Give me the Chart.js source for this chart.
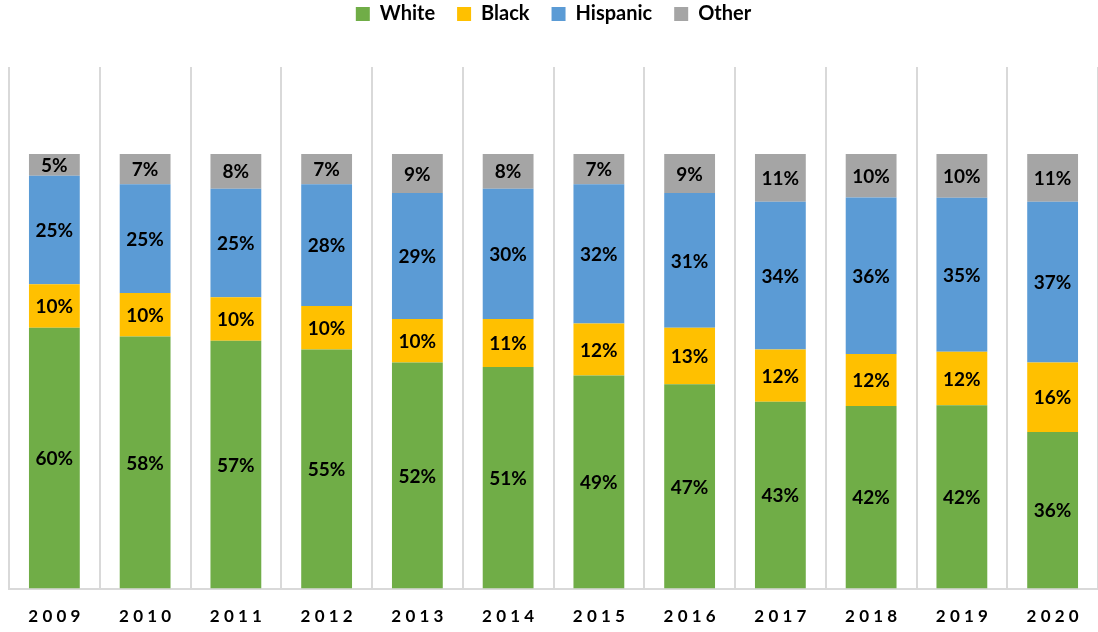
<!DOCTYPE html>
<html>
<head>
<meta charset="utf-8">
<script src="https://cdn.jsdelivr.net/npm/chart.js@4"></script>
<style>
  html, body { margin: 0; padding: 0; background: #fff; }
  #wrap { width: 1098px; height: 632px; }
</style>
</head>
<body>
<div id="wrap"><canvas id="chartRace"></canvas></div>
<script>
let years = ['2009', '2010', '2011', '2012', '2013', '2014', '2015', '2016', '2017', '2018', '2019', '2020']
let white = [60, 58, 57, 55, 52, 51, 49, 47, 43, 42, 42.2, 36]
let black = [10, 10, 10, 10, 10, 11, 12, 13, 12, 12, 12.3, 16]
let hispanic = [25, 25, 25, 28, 29, 30, 32, 31, 34, 36, 35.4, 37]
let other = [5, 7, 8, 7, 9, 8, 7, 9, 11, 10, 10.1, 11]

let fontName = 'Lato, "Liberation Sans", sans-serif'

// percent labels in the middle of each segment
let segLabels = {
    id: 'segLabels',
    afterDatasetsDraw: function (chart) {
        let ctx = chart.ctx
        ctx.save()
        ctx.font = 'bold 19px ' + fontName
        ctx.fillStyle = '#000'
        ctx.textAlign = 'center'
        ctx.textBaseline = 'middle'
        chart.data.datasets.forEach(function (ds, i) {
            chart.getDatasetMeta(i).data.forEach(function (bar, j) {
                let p = bar.getProps(['x', 'y', 'base'], true)
                ctx.fillText(Math.round(ds.data[j]) + '%', p.x, (p.y + p.base) / 2 + 1)
            })
        })
        ctx.restore()
    }
}

// extra room under the legend
let legendGap = {
    id: 'legendGap',
    beforeInit: function (chart) {
        let fit = chart.legend.fit
        chart.legend.fit = function () {
            fit.bind(chart.legend)()
            this.height += 33
        }
    }
}

function makeSet (name, values, color) {
    return {
        label: name,
        data: values,
        backgroundColor: color,
        borderWidth: 0,
        barPercentage: 0.56,
        categoryPercentage: 1
    }
}

let canvs = document.getElementById('chartRace').getContext('2d')
let chartRace = new Chart(canvs, {
    type: 'bar',
    data: {
        labels: years,
        datasets: [
            makeSet('White', white, '#70AD47'),
            makeSet('Black', black, '#FFC000'),
            makeSet('Hispanic', hispanic, '#5B9BD5'),
            makeSet('Other', other, '#A5A5A5')
        ]
    },
    plugins: [segLabels, legendGap],
    options: {
        responsive: true,
        maintainAspectRatio: false,
        animation: false,
        layout: { padding: { left: 9, right: 0, top: -18, bottom: -13 } },
        plugins: {
            tooltip: { enabled: false },
            legend: {
                display: true,
                position: 'top',
                labels: {
                    color: '#000',
                    font: { family: fontName, size: 20, weight: 'bold' },
                    boxWidth: 14,
                    boxHeight: 14,
                    padding: 22
                }
            }
        },
        scales: {
            x: {
                stacked: true,
                grid: { offset: true, color: '#d9d9d9', lineWidth: 2, drawTicks: false },
                border: { color: '#d9d9d9', width: 2 },
                ticks: {
                    color: '#000',
                    padding: 18,
                    font: { family: fontName, size: 17, weight: 'bold' },
                    callback: function (v, i) { return years[i].split('').join('\u2005') }
                }
            },
            y: {
                stacked: true,
                display: false,
                min: 0,
                max: 120
            }
        }
    }
})
</script>
</body>
</html>
